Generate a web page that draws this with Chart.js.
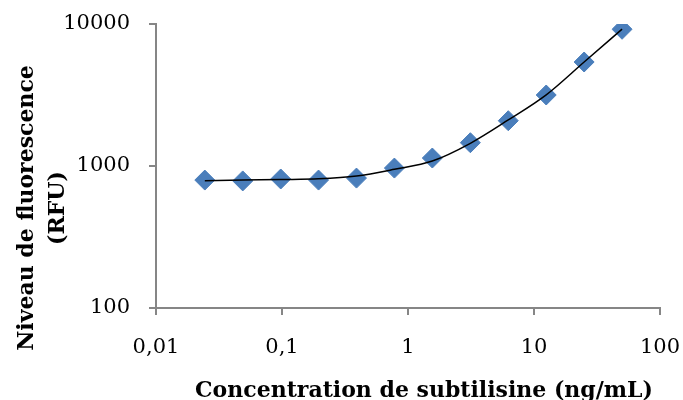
<!DOCTYPE html>
<html>
<head>
<meta charset="utf-8">
<script src="https://cdn.jsdelivr.net/npm/chart.js@4.4.1/dist/chart.umd.min.js"></script>
<style>
  html, body { margin: 0; padding: 0; background: #fff; }
  #wrap { width: 683px; height: 400px; }
</style>
</head>
<body>
<div id="wrap"><canvas id="chart" width="683" height="400"></canvas></div>
<script>
// concentrations (ng/mL), 2-fold dilutions
const concentrations = [0.0244, 0.0488, 0.0977, 0.195, 0.39, 0.78, 1.56, 3.125, 6.25, 12.5, 25, 50];
// measured fluorescence (RFU)
const fluorescence = [796, 785, 810, 796, 822, 967, 1138, 1459, 2084, 3162, 5400, 9180];
// fitted curve at the same concentrations
const fitValues = [788, 796, 803, 812, 850, 948, 1084, 1445, 2110, 3170, 5400, 9200];

const xTickValues = [0.01, 0.1, 1, 10, 100];
const xTickLabels = ['0,01', '0,1', '1', '10', '100'];
const yTickValues = [100, 1000, 10000];
const yTickLabels = ['100', '1000', '10000'];

const xTitle = 'Concentration de subtilisine (ng/mL)';
const yTitle = ['Niveau de fluorescence', '(RFU)'];

const axisColor = '#868686';
const serif = '"DejaVu Serif", serif';

const axisTitles = {
    id: 'axisTitles',
    afterDraw(chart) {
        const ctx = chart.ctx;
        ctx.save();
        ctx.fillStyle = '#000';
        ctx.font = 'bold 22px ' + serif;
        ctx.textAlign = 'center';
        ctx.textBaseline = 'alphabetic';
        ctx.fillText(xTitle, 424, 397);
        ctx.translate(33, 208);
        ctx.rotate(-Math.PI / 2);
        ctx.fillText(yTitle[0], 0, 0);
        ctx.fillText(yTitle[1], 0, 31);
        ctx.restore();
    }
};

const ctx = document.getElementById('chart').getContext('2d');
new Chart(ctx, {
    type: 'scatter',
    data: {
        datasets: [{
            label: 'fit',
            data: concentrations.map((c, i) => ({ x: c, y: fitValues[i] })),
            showLine: true,
            borderColor: '#000',
            borderWidth: 1.5,
            cubicInterpolationMode: 'monotone',
            pointRadius: 0,
            pointHoverRadius: 0
        }, {
            label: 'RFU',
            data: concentrations.map((c, i) => ({ x: c, y: fluorescence[i] })),
            pointStyle: 'rectRot',
            pointRadius: 10,
            pointHoverRadius: 10,
            backgroundColor: '#4a7ebb',
            borderColor: '#4a7ebb',
            borderWidth: 1
        }]
    },
    options: {
        responsive: false,
        animation: false,
        events: [],
        layout: { padding: { left: 0, top: 24, right: 23, bottom: 0 } },
        plugins: { legend: { display: false }, tooltip: { enabled: false } },
        scales: {
            x: {
                type: 'logarithmic',
                min: 0.01,
                max: 100,
                afterBuildTicks: s => { s.ticks = xTickValues.map(v => ({ value: v })); },
                afterFit: s => { s.height = 92; s.paddingLeft = 0; s.paddingRight = 0; },
                grid: { drawOnChartArea: false, color: axisColor, tickLength: 7, lineWidth: 2 },
                border: { color: axisColor, width: 2 },
                ticks: {
                    color: '#000',
                    font: { family: serif, size: 21 },
                    padding: 20,
                    maxRotation: 0,
                    callback: v => xTickLabels[xTickValues.indexOf(v)]
                }
            },
            y: {
                type: 'logarithmic',
                min: 100,
                max: 10000,
                afterBuildTicks: s => { s.ticks = yTickValues.map(v => ({ value: v })); },
                afterFit: s => { s.width = 156; s.paddingTop = 0; s.paddingBottom = 0; },
                grid: { drawOnChartArea: false, color: axisColor, tickLength: 7, lineWidth: 2 },
                border: { color: axisColor, width: 2 },
                ticks: {
                    color: '#000',
                    font: { family: serif, size: 21 },
                    padding: 19,
                    callback: v => yTickLabels[yTickValues.indexOf(v)]
                }
            }
        }
    },
    plugins: [axisTitles]
});
</script>
</body>
</html>
